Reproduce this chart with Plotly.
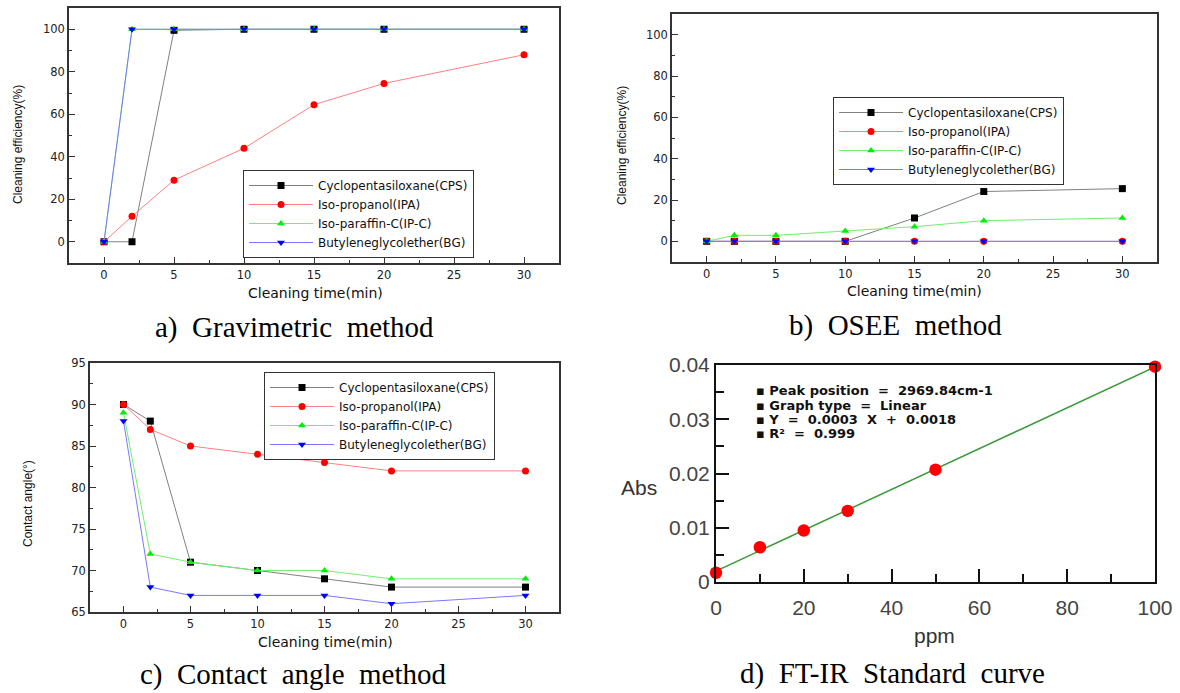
import numpy as np
import plotly.graph_objects as go

W, H = 1180, 693

# ---------------- data ----------------
time_min = [0, 2, 5, 10, 15, 20, 30]
series_names = ["Cyclopentasiloxane(CPS)", "Iso-propanol(IPA)",
                "Iso-paraffin-C(IP-C)", "Butyleneglycolether(BG)"]

# a) Gravimetric method - cleaning efficiency (%)
grav_cps = [0, 0, 99.5, 100, 100, 100, 100]
grav_ipa = [0, 12, 29, 44, 64.5, 74.5, 88]
grav_ipc = [0, 100, 100, 100, 100, 100, 100]
grav_bg = [0, 100, 100, 100, 100, 100, 100]

# b) OSEE method - cleaning efficiency (%)
osee_cps = [0, 0, 0, 0, 11.3, 24.1, 25.5]
osee_ipa = [0, 0, 0, 0, 0, 0, 0]
osee_ipc = [0, 2.9, 2.9, 5.0, 7.1, 10, 11.3]
osee_bg = [0, 0, 0, 0, 0, 0, 0]

# c) Contact angle method - contact angle (deg)
ca_cps = [90, 88, 71, 70, 69, 68, 68]
ca_ipa = [90, 87, 85, 84, 83, 82, 82]
ca_ipc = [89, 72, 71, 70, 70, 69, 69]
ca_bg = [88, 68, 67, 67, 67, 66, 67]

# d) FT-IR standard curve
ppm = [0, 10, 20, 30, 50, 100]
absorbance = [0.0017, 0.0064, 0.0095, 0.0131, 0.0207, 0.0397]

d_xticks = [0, 20, 40, 60, 80, 100]
d_yticks = [0, 0.01, 0.02, 0.03, 0.04]
d_yticktext = ["0", "0.01", "0.02", "0.03", "0.04"]

d_notes = ["▪ Peak position  =  2969.84cm-1", "▪ Graph type  =  Linear",
           "▪ Y  =  0.0003  X  +  0.0018", "▪ R²  =  0.999"]

captions = ["a)  Gravimetric  method", "b)  OSEE  method",
            "c)  Contact  angle  method", "d)  FT-IR  Standard  curve"]

# ---------------- styles ----------------
line_colors = ["#808080", "#ff8080", "#70f070", "#7878ff"]
marker_colors = ["#000000", "#ff0000", "#00ee00", "#0000ff"]
marker_symbols = ["square", "circle", "triangle-up", "triangle-down"]


def px(x):
    return x / W


def py(y):
    return 1 - y / H


fig = go.Figure()

panels = [
    ("x", "y", "legend", [grav_cps, grav_ipa, grav_ipc, grav_bg]),
    ("x2", "y2", "legend2", [osee_cps, osee_ipa, osee_ipc, osee_bg]),
    ("x3", "y3", "legend3", [ca_cps, ca_ipa, ca_ipc, ca_bg]),
]
for xa, ya, lg, data in panels:
    for i, (name, vals) in enumerate(zip(series_names, data)):
        fig.add_trace(go.Scatter(
            x=time_min, y=vals, name=name, mode="lines+markers",
            xaxis=xa, yaxis=ya, legend=lg,
            line=dict(color=line_colors[i], width=1),
            marker=dict(color=marker_colors[i], symbol=marker_symbols[i], size=7,
                        line=dict(width=0)),
        ))

# panel d fit line + points
coef = np.polyfit(ppm, absorbance, 1)
fit_x = [ppm[0], ppm[-1]]
fit_y = list(np.polyval(coef, fit_x))
fig.add_trace(go.Scatter(x=fit_x, y=fit_y, mode="lines", xaxis="x4", yaxis="y4",
                         line=dict(color="#3a9a3a", width=1.5), showlegend=False,
                         cliponaxis=False))
fig.add_trace(go.Scatter(x=ppm, y=absorbance, mode="markers", xaxis="x4", yaxis="y4",
                         marker=dict(color="#ff0000", size=12.5, symbol="circle"),
                         showlegend=False, cliponaxis=False))

tickfont = dict(family="DejaVu Sans", size=11.5, color="#222")
axcolor = "#333"


def time_axis(dom, anchor):
    return dict(domain=dom, anchor=anchor, range=[-2.5, 32.5], tick0=0, dtick=5,
                ticks="inside", ticklen=6, tickcolor=axcolor, showline=True,
                linecolor=axcolor, linewidth=1.5, mirror=True, showgrid=False,
                zeroline=False, tickfont=tickfont, automargin=False,
                minor=dict(ticks="inside", ticklen=3, dtick=2.5, tickcolor=axcolor,
                           showgrid=False))


def val_axis(dom, anchor, rng, dtick, mdtick):
    return dict(domain=dom, anchor=anchor, range=rng, tick0=0, dtick=dtick,
                ticks="inside", ticklen=6, tickcolor=axcolor, showline=True,
                linecolor=axcolor, linewidth=1.5, mirror=True, showgrid=False,
                zeroline=False, tickfont=tickfont, automargin=False,
                minor=dict(ticks="inside", ticklen=3, dtick=mdtick, tickcolor=axcolor,
                           showgrid=False))


fig.update_layout(
    width=W, height=H, margin=dict(l=0, r=0, t=0, b=0, autoexpand=False),
    paper_bgcolor="white", plot_bgcolor="white",
    xaxis=time_axis([px(69), px(559)], "y"),
    yaxis=val_axis([py(263), py(8)], "x", [-10, 110], 20, 10),
    xaxis2=time_axis([px(672), px(1157)], "y2"),
    yaxis2=val_axis([py(262), py(14)], "x2", [-10, 110], 20, 10),
    xaxis3=time_axis([px(90), px(559)], "y3"),
    yaxis3=val_axis([py(612), py(363)], "x3", [65, 95], 5, 2.5),
    xaxis4=dict(domain=[px(716), px(1155)], anchor="y4", range=[0, 100],
                tickvals=d_xticks, ticks="inside", ticklen=13, tickwidth=1.5,
                tickcolor="#111", showline=True, linecolor="#111", linewidth=2,
                mirror=True, showgrid=False, zeroline=False, ticklabelstandoff=6,
                automargin=False,
                tickfont=dict(family="Liberation Sans", size=21, color="#444"),
                minor=dict(ticks="inside", ticklen=8, dtick=10, tickcolor="#111",
                           tickwidth=1.5, showgrid=False)),
    yaxis4=dict(domain=[py(582), py(365)], anchor="x4", range=[0, 0.04],
                tickvals=d_yticks, ticktext=d_yticktext, ticks="inside", ticklen=13,
                tickwidth=1.5, tickcolor="#111", showline=True, linecolor="#111",
                linewidth=2, mirror=True, showgrid=False, zeroline=False,
                automargin=False,
                tickfont=dict(family="Liberation Sans", size=21, color="#444"),
                minor=dict(ticks="inside", ticklen=8, dtick=0.005, tickcolor="#111",
                           tickwidth=1.5, showgrid=False)),
    showlegend=True,
)

leg_common = dict(bgcolor="white", bordercolor="#333", borderwidth=1,
                  font=dict(family="DejaVu Sans", size=12, color="#111"),
                  itemwidth=64, tracegroupgap=0, xanchor="left", yanchor="top",
                  traceorder="normal")
fig.update_layout(
    legend=dict(x=px(243), y=py(170), **leg_common),
    legend2=dict(x=px(833), y=py(97), **leg_common),
    legend3=dict(x=px(264), y=py(372), **leg_common),
)

ann = []
title_font = dict(family="DejaVu Sans", size=14, color="#111")
ytitle_font = dict(family="Liberation Sans", size=12, color="#111")


def add_text(text, x, y, font, **kw):
    d = dict(text=text, x=px(x), y=py(y), xref="paper", yref="paper",
             showarrow=False, xanchor="center", yanchor="middle", font=font)
    d.update(kw)
    ann.append(d)


for text, x, y in [("Cleaning time(min)", 315, 293),
                   ("Cleaning time(min)", 914, 291),
                   ("Cleaning time(min)", 325, 642)]:
    add_text(text, x, y, title_font)
for text, x, y in [("Cleaning efficiency(%)", 18, 145),
                   ("Cleaning efficiency(%)", 622, 146),
                   ("Contact angle(°)", 28, 504)]:
    add_text(text, x, y, ytitle_font, textangle=-90)
add_text("Abs", 639, 487, dict(family="Liberation Sans", size=21, color="#333"))
add_text("ppm", 934, 635, dict(family="Liberation Sans", size=21, color="#333"))
for i, t in enumerate(d_notes):
    add_text("<b>" + t.replace("  ", "\u00a0\u00a0") + "</b>", 754, 391 + 14.3 * i,
             dict(family="DejaVu Sans", size=13, color="#111"), xanchor="left")
for t, x, y in zip(captions, [294, 895, 293, 892], [327, 325, 674, 673]):
    add_text(t.replace("  ", "\u00a0\u00a0"), x, y,
             dict(family="Liberation Serif", size=29, color="#000"))
fig.update_layout(annotations=ann)

fig.write_html("out.html",
               post_script="document.body.style.margin='0';document.body.style.padding='0';")
